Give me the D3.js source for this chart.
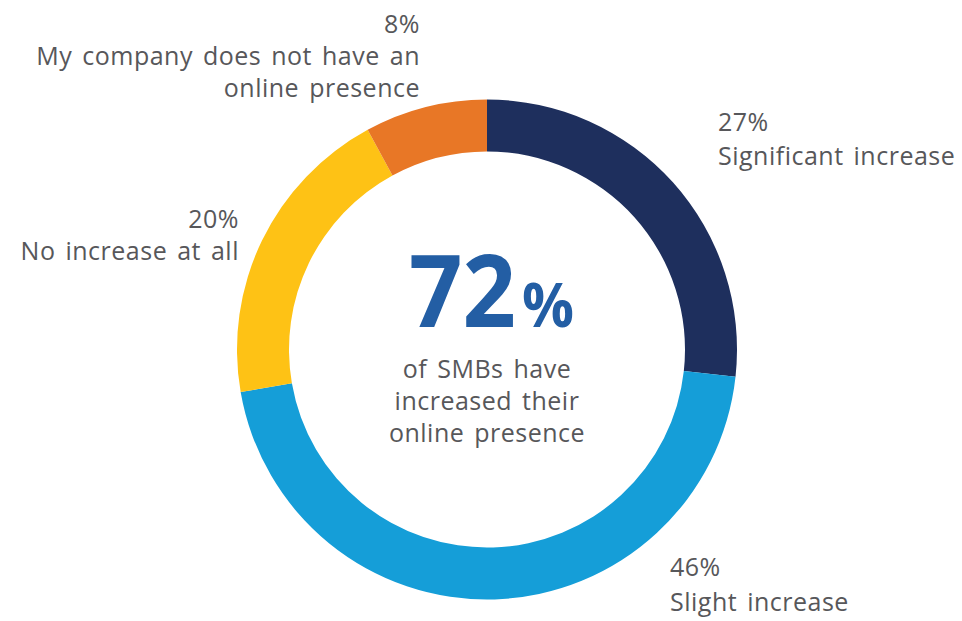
<!DOCTYPE html>
<html>
<head>
<meta charset="utf-8">
<script src="https://cdn.jsdelivr.net/npm/d3@7"></script>
<style>
  html, body { margin: 0; padding: 0; background: #ffffff; }
  svg { display: block; }
  text { font-family: "Open Sans", "Noto Sans", sans-serif; }
</style>
</head>
<body>
<svg id="chart" width="962" height="621"></svg>
<script>
const categories = ["Significant increase", "Slight increase", "No increase at all", "My company does not have an online presence"];
const values = [27, 46, 20, 8];
const colors = ["#1e2f5d", "#159ed8", "#fec215", "#e87726"];
const labelLines = [
  ["27%", "Significant increase"],
  ["46%", "Slight increase"],
  ["20%", "No increase at all"],
  ["8%", "My company does not have an", "online presence"]
];
const centerValue = "72";
const centerLines = ["of SMBs have", "increased their", "online presence"];

const svg = d3.select("#chart");
const cx = 487, cy = 349.5, rOuter = 250, rInner = 198;

const pie = d3.pie().sort(null).value(d => d);
const arc = d3.arc().innerRadius(rInner).outerRadius(rOuter);
const g = svg.append("g").attr("transform", `translate(${cx},${cy})`);
g.selectAll("path").data(pie(values)).join("path")
  .attr("d", arc)
  .attr("fill", (d, i) => colors[i]);

const textStyle = sel => sel
  .attr("fill", "#57575a")
  .attr("font-size", 25)
  .attr("letter-spacing", 0.5)
  .attr("word-spacing", 3);

// outside labels
const labelPos = [
  { x: 718, y: 131, anchor: "start", step: 33.5 },
  { x: 670, y: 575.5, anchor: "start", step: 35 },
  { x: 239, y: 227.5, anchor: "end", step: 32.5 },
  { x: 420, y: 33, anchor: "end", step: 32 }
];
labelLines.forEach((lines, i) => {
  const p = labelPos[i];
  const t = svg.append("text")
    .attr("x", p.x).attr("y", p.y)
    .attr("text-anchor", p.anchor)
    .call(textStyle);
  lines.forEach((l, j) => {
    t.append("tspan").attr("x", p.x).attr("y", p.y + j * p.step).text(l);
  });
});

// center text
svg.append("text")
  .attr("x", 409).attr("y", 327)
  .attr("fill", "#235ea4")
  .attr("font-weight", 700)
  .attr("font-size", 100)
  .attr("textLength", 107)
  .attr("lengthAdjust", "spacingAndGlyphs")
  .text(centerValue);
svg.append("text")
  .attr("x", 522).attr("y", 327)
  .attr("fill", "#235ea4")
  .attr("font-weight", 700)
  .attr("font-size", 60)
  .attr("textLength", 52)
  .attr("lengthAdjust", "spacingAndGlyphs")
  .text("%");

centerLines.forEach((l, j) => {
  svg.append("text")
    .attr("x", cx).attr("y", 378 + j * 32)
    .attr("text-anchor", "middle")
    .call(textStyle)
    .text(l);
});
</script>
</body>
</html>
